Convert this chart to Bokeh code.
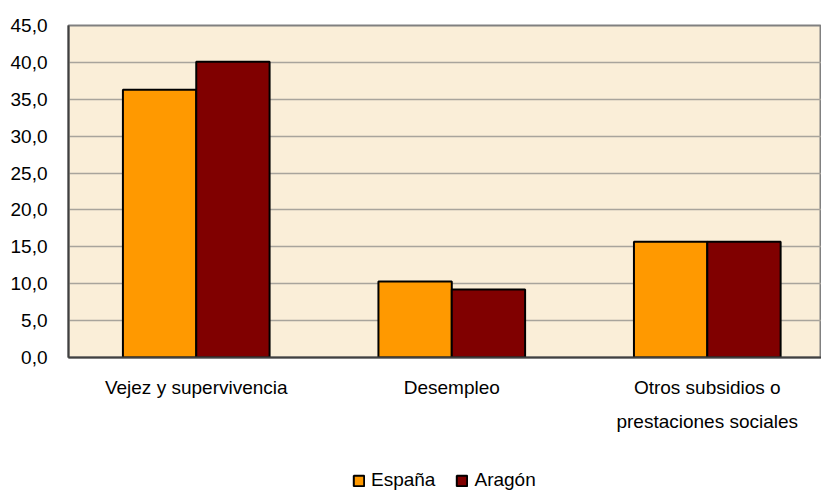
from bokeh.plotting import figure
from bokeh.layouts import column
from bokeh.models import FixedTicker, Legend, LegendItem, ColumnDataSource
from bokeh.embed import file_html
from bokeh.resources import INLINE

categories = ["Vejez y supervivencia", "Desempleo", "Otros subsidios o\nprestaciones sociales"]
espana = [36.3, 10.3, 15.7]
aragon = [40.1, 9.2, 15.7]
series_names = ["España", "Aragón"]
series_colors = ["#ff9900", "#800000"]
y_ticks = [0, 5, 10, 15, 20, 25, 30, 35, 40, 45]
y_tick_labels = ["0,0", "5,0", "10,0", "15,0", "20,0", "25,0", "30,0", "35,0", "40,0", "45,0"]

FONT = "Liberation Sans"
centers = [i + 0.5 for i in range(len(categories))]
bar_w = 0.287

p = figure(width=821, height=460, output_backend="svg", toolbar_location=None,
           x_range=(0, 2.947), y_range=(0, 45),
           min_border_left=68, min_border_right=0, min_border_top=25, min_border_bottom=103)
p.border_fill_color = "white"
p.background_fill_color = "#faeed8"
p.outline_line_color = "#808080"
p.outline_line_width = 2

src_e = ColumnDataSource(dict(x=[c - bar_w / 2 for c in centers], top=espana))
src_a = ColumnDataSource(dict(x=[c + bar_w / 2 for c in centers], top=aragon))
p.vbar(x="x", top="top", width=bar_w, bottom=0, source=src_e,
       fill_color=series_colors[0], line_color="black", line_width=2)
p.vbar(x="x", top="top", width=bar_w, bottom=0, source=src_a,
       fill_color=series_colors[1], line_color="black", line_width=2)

# axes
p.xaxis.ticker = FixedTicker(ticks=centers)
p.xaxis.major_label_overrides = {c: lab for c, lab in zip(centers, categories)}
p.yaxis.ticker = FixedTicker(ticks=y_ticks)
p.yaxis.major_label_overrides = {t: lab for t, lab in zip(y_ticks, y_tick_labels)}
for ax in (p.xaxis, p.yaxis):
    ax.major_tick_line_color = None
    ax.minor_tick_line_color = None
    ax.major_label_text_font = FONT
    ax.major_label_text_font_size = "19px"
    ax.major_label_text_color = "black"
    ax.axis_line_color = "#404040"
    ax.axis_line_width = 2
p.yaxis.major_label_standoff = 15
p.xaxis.major_label_standoff = 13
p.xaxis.major_label_text_line_height = 1.65

p.xgrid.grid_line_color = None
p.ygrid.ticker = FixedTicker(ticks=y_ticks)
p.ygrid.grid_line_color = "#a8a49c"
p.ygrid.grid_line_width = 1.5

# legend strip (separate figure so that the legend is not clipped)
lg = figure(width=821, height=32, output_backend="svg", toolbar_location=None,
            x_range=(0, 1), y_range=(0, 1), x_axis_type=None, y_axis_type=None,
            min_border_left=0, min_border_right=0, min_border_top=0, min_border_bottom=0)
lg.outline_line_color = None
lg.xgrid.grid_line_color = None
lg.ygrid.grid_line_color = None
lg.background_fill_color = "white"
lg.border_fill_color = "white"
items = []
for name, col in zip(series_names, series_colors):
    # placeholder bar far outside the canvas, only used for the legend swatch
    r = lg.vbar(x=[1000], top=[-1000], bottom=[-1001], width=0.1,
                fill_color=col, line_color="black", line_width=2)
    items.append(LegendItem(label=name, renderers=[r]))
legend = Legend(items=items, orientation="horizontal", location=(284, 1),
                label_text_font=FONT, label_text_font_size="19px", label_text_color="black",
                glyph_width=13, glyph_height=13, label_standoff=6, spacing=20,
                padding=0, margin=0, border_line_color=None,
                background_fill_alpha=0)
lg.add_layout(legend, "center")

layout = column(p, lg, spacing=0)
open("out.html", "w").write(file_html(layout, INLINE))
